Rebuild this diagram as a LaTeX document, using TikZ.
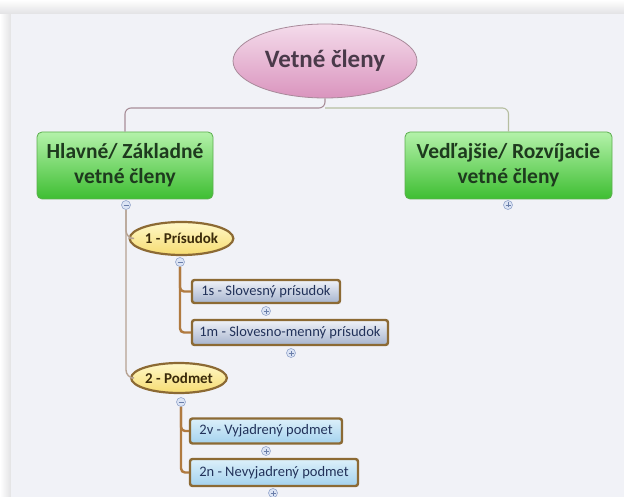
\documentclass[tikz,border=0pt]{standalone}
\usepackage{fontspec}
\setmainfont{Carlito}
\usetikzlibrary{shapes.geometric}
\definecolor{panelbg}{HTML}{F1F2F7}
\definecolor{shadowc}{HTML}{E2E2E4}
\definecolor{roottop}{HTML}{F4DCEB}
\definecolor{rootbot}{HTML}{DA94BE}
\definecolor{rootdraw}{HTML}{A88A9A}
\definecolor{roottext}{HTML}{4A3A4A}
\definecolor{greentop}{HTML}{B4F2AA}
\definecolor{greenbot}{HTML}{3EBE32}
\definecolor{greendraw}{HTML}{5CAE4E}
\definecolor{greentext}{HTML}{1E3A1E}
\definecolor{yeltop}{HTML}{FFF8C8}
\definecolor{yelbot}{HTML}{F6DC72}
\definecolor{browndraw}{HTML}{8C6A34}
\definecolor{yeltext}{HTML}{3A2A0A}
\definecolor{graytop}{HTML}{F0F2F8}
\definecolor{graybot}{HTML}{A6B4CE}
\definecolor{bluetop}{HTML}{DCF0FA}
\definecolor{bluebot}{HTML}{A4D2EE}
\definecolor{boxtext}{HTML}{22325A}
\definecolor{mauveline}{HTML}{A88E98}
\definecolor{greenline}{HTML}{B6BEA0}
\definecolor{trunkc}{HTML}{B6A292}
\definecolor{brownline}{HTML}{B07A40}
\definecolor{btnfill}{HTML}{DCE4F4}
\definecolor{btndraw}{HTML}{94A6CC}
\definecolor{btnmark}{HTML}{6A7EAA}
\tikzset{
  rootnode/.style={ellipse, draw=rootdraw, line width=0.8pt, top color=roottop, bottom color=rootbot,
    minimum width=184pt, minimum height=74pt, inner sep=0pt, text=roottext,
    font=\fontsize{25}{28}\selectfont\bfseries},
  greenbox/.style={rectangle, rounded corners=5pt, draw=greendraw, line width=0.8pt,
    top color=greentop, bottom color=greenbot, minimum height=67pt, inner sep=0pt,
    align=center, text=greentext, font=\fontsize{21.5}{25}\selectfont\bfseries},
  yellowell/.style={ellipse, draw=browndraw, line width=2.2pt, top color=yeltop, bottom color=yelbot,
    inner sep=0pt, text=yeltext, font=\fontsize{15}{18}\selectfont\bfseries},
  graybox/.style={rectangle, rounded corners=2.5pt, draw=browndraw, line width=2.4pt,
    top color=graytop, bottom color=graybot, inner sep=0pt, text=boxtext,
    font=\fontsize{14.5}{17}\selectfont},
  bluebox/.style={graybox, top color=bluetop, bottom color=bluebot},
  btn/.style={circle, draw=btndraw, fill=btnfill, line width=0.6pt, minimum size=9pt, inner sep=0pt},
  collapsebtn/.style={btn, path picture={\draw[btnmark, line width=0.8pt]
    ([xshift=-2.5pt]path picture bounding box.center) -- ([xshift=2.5pt]path picture bounding box.center);}},
  expandbtn/.style={btn, path picture={\draw[btnmark, line width=0.8pt]
    ([xshift=-2.5pt]path picture bounding box.center) -- ([xshift=2.5pt]path picture bounding box.center)
    ([yshift=-2.5pt]path picture bounding box.center) -- ([yshift=2.5pt]path picture bounding box.center);}},
  trunkline/.style={draw=trunkc, line width=1.4pt, rounded corners=8pt},
  subline/.style={draw=brownline, line width=2.4pt, rounded corners=4pt}
}
\begin{document}
\begin{tikzpicture}[x=1pt,y=-1pt]
\useasboundingbox (0,0) rectangle (624,497);
\fill[white] (0,0) rectangle (624,497);
\shade[left color=white, right color=shadowc] (0,0) rectangle (11,497);
\shade[top color=white, bottom color=shadowc] (0,0) rectangle (624,14);
\fill[panelbg] (11,14) rectangle (624,497);

% root and main branches
\node[rootnode] (root) at (325,61) {Vetné členy};
\coordinate (j) at (325,108);
\node[greenbox, minimum width=176pt] (hl) at (125,165.5) {Hlavné/ Základné\\vetné členy};
\node[greenbox, minimum width=207pt] (ved) at (508.5,165.5) {Vedľajšie/ Rozvíjacie\\vetné členy};
\draw[mauveline, line width=1.1pt, rounded corners=6pt] (root.south) -- (j) -| (hl.north);
\draw[greenline, line width=1.1pt, rounded corners=6pt] (j) -| (ved.north);
\node[collapsebtn] (m1) at (126,205) {};
\node[expandbtn] (p0) at (508,205) {};

% level 2
\node[yellowell, minimum width=93pt, minimum height=33pt] (pris) at (181.5,238.5) {1 - Prísudok};
\node[yellowell, minimum width=88pt, minimum height=30pt] (pod) at (179,378) {2 - Podmet};
\draw[trunkline] (m1.south) |- (pris.west);
\draw[trunkline] (m1.south) |- (pod.west);

% Prisudok subtree
\node[collapsebtn] (m2) at (180,262) {};
\node[graybox, minimum width=148pt, minimum height=23pt] (s1) at (266,291.5) {1s - Slovesný prísudok};
\node[graybox, minimum width=196pt, minimum height=25pt] (s2) at (290,332.5) {1m - Slovesno-menný prísudok};
\draw[subline] (m2.south) |- (s1.west);
\draw[subline] (m2.south) |- (s2.west);
\node[expandbtn] (p1) at (266,311) {};
\node[expandbtn] (p2) at (291,353) {};

% Podmet subtree
\node[collapsebtn] (m3) at (181,402) {};
\node[bluebox, minimum width=152pt, minimum height=25pt] (v1) at (266,431) {2v - Vyjadrený podmet};
\node[bluebox, minimum width=168pt, minimum height=27pt] (v2) at (274,472.5) {2n - Nevyjadrený podmet};
\draw[subline] (m3.south) |- (v1.west);
\draw[subline] (m3.south) |- (v2.west);
\node[expandbtn] (p3) at (266,451) {};
\node[expandbtn] (p4) at (273,493) {};
\end{tikzpicture}
\end{document}
